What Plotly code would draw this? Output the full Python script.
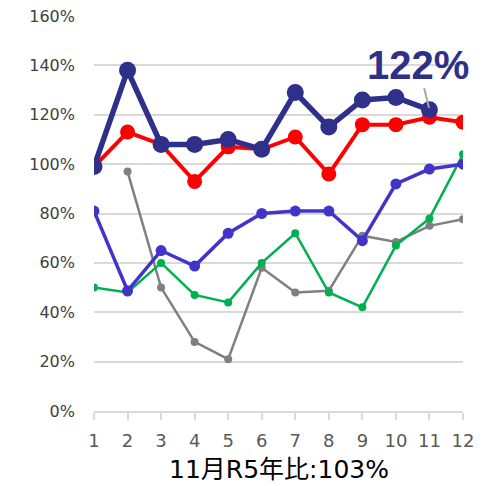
import plotly.graph_objects as go

# Month index on the x axis
months = list(range(1, 13))
month_labels = [str(m) for m in months]

# Year-over-year ratios (%) per series
navy_vals = [99, 138, 108, 108, 110, 106, 129, 115, 126, 127, 122, None]
red_vals = [99, 113, 108, 93, 107, 106, 111, 96, 116, 116, 119, 117]
blue_vals = [81, 48.7, 65, 58.7, 72, 80, 81, 81, 69, 92, 98, 100]
green_vals = [50, 48, 60, 47, 44, 60, 72, 48, 42, 67, 78, 104]
gray_vals = [None, 97, 50, 28, 21, 58, 48, 48.7, 71, 68.5, 75, 77.7]

y_ticks = [0, 20, 40, 60, 80, 100, 120, 140, 160]
y_tick_labels = [f"{v}%" for v in y_ticks]

callout_month = 11
callout_value = navy_vals[callout_month - 1]
footer_text = "11月R5年比:103%"

fig = go.Figure()

# Drawn bottom to top: gray, green, blue, red, navy
series = [
    (gray_vals, "#808080", 2.5, 8),
    (green_vals, "#00B050", 2.5, 8),
    (blue_vals, "#4234C8", 3.5, 11),
    (red_vals, "#FF0000", 4, 15),
    (navy_vals, "#2E3089", 5.5, 17),
]
for vals, color, lw, ms in series:
    fig.add_trace(go.Scatter(
        x=months, y=vals, mode="lines+markers",
        line=dict(color=color, width=lw),
        marker=dict(color=color, size=ms),
        connectgaps=False, showlegend=False, hoverinfo="skip",
    ))

# Callout for the latest navy value
fig.add_annotation(
    x=callout_month, y=callout_value, xref="x", yref="y",
    text=f"<b>{callout_value:.0f}%</b>",
    showarrow=True, arrowhead=0, arrowwidth=2, arrowcolor="#A6A6A6",
    ax=-11, ay=-45, standoff=2,
    font=dict(family="Liberation Sans, Arial", size=40, color="#2E3089"),
)

# Footer text under the month axis
fig.add_annotation(
    x=0.5, y=-0.147, xref="paper", yref="paper",
    text=footer_text, showarrow=False, yanchor="middle",
    font=dict(family="DejaVu Sans, Noto Sans CJK JP", size=25, color="#000000"),
)

fig.update_xaxes(
    range=[1, 12], tickvals=months, ticktext=month_labels,
    showgrid=False, showline=True, linecolor="#D9D9D9", linewidth=1.5,
    ticks="outside", ticklen=7, tickcolor="#D9D9D9", tickwidth=1.5,
    tickfont=dict(family="DejaVu Sans, Verdana", size=18, color="#595959"),
    ticklabelstandoff=6, zeroline=False, fixedrange=True, automargin=False,
)
fig.update_yaxes(
    range=[0, 160], tickvals=y_ticks, ticktext=y_tick_labels,
    showgrid=True, gridcolor="#D9D9D9", gridwidth=1.5,
    showline=False, zeroline=False, ticks="",
    tickfont=dict(family="DejaVu Sans, Verdana", size=16, color="#404040"),
    ticklabelstandoff=18, fixedrange=True, automargin=False,
)

fig.update_layout(
    width=492, height=486,
    margin=dict(l=94, r=29, t=16, b=75),
    plot_bgcolor="white", paper_bgcolor="white",
)

fig.write_html("out.html")
